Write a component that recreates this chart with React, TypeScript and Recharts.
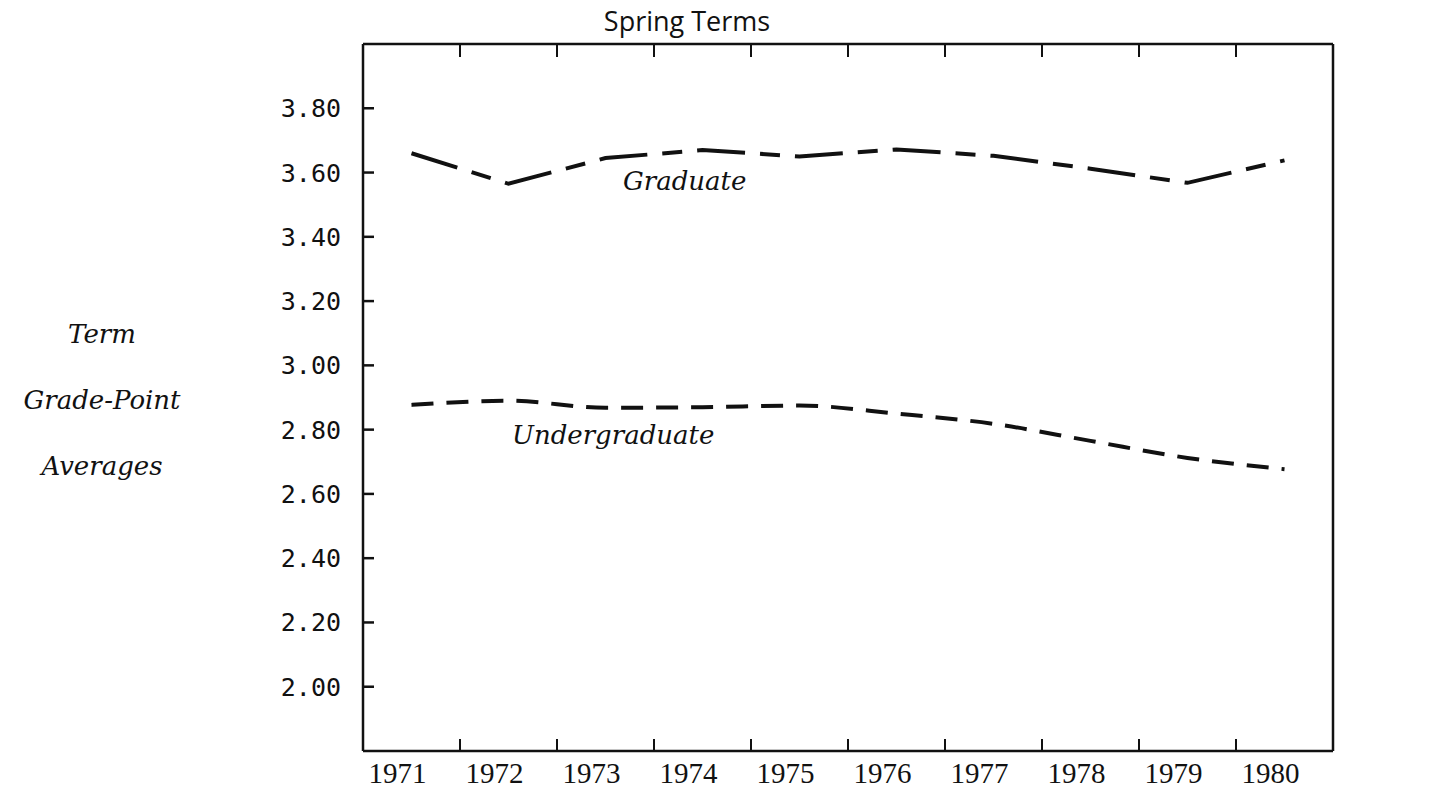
import React from 'react';
import { LineChart, Line, XAxis, YAxis } from 'recharts';

const years = ['1971', '1972', '1973', '1974', '1975', '1976', '1977', '1978', '1979', '1980'];
const graduate = [3.66, 3.565, 3.645, 3.67, 3.65, 3.672, 3.652, 3.612, 3.568, 3.638];
const undergraduate = [2.877, 2.89, 2.868, 2.87, 2.875, 2.85, 2.818, 2.765, 2.712, 2.677];
const gpaTicks = [2.0, 2.2, 2.4, 2.6, 2.8, 3.0, 3.2, 3.4, 3.6, 3.8];
const sideLabel = ['Term', 'Grade-Point', 'Averages'];

const data = years.map((y, i) => ({
    year: Number(y),
    graduate: graduate[i],
    undergraduate: undergraduate[i],
}));

// tick marks on the x axes sit between the years, the labels on the years
const yearBounds = years.slice(1).map((y) => Number(y) - 0.5);
const bottomTicks = [...years.map(Number), ...yearBounds].sort((a, b) => a - b);

const INK = '#111';
const monoFont = '"DejaVu Sans Mono", monospace';
const serifFont = '"Liberation Serif", serif';
const italicFont = '"DejaVu Serif", serif';

const YearTick = (props: any) => {
    const { x, y, payload } = props;
    const v = payload.value;
    if (Number.isInteger(v)) {
        return (
            <text x={x - 14} y={y + 32} textAnchor="middle" fontFamily={serifFont} fontSize={29} fill={INK}>
                {v}
            </text>
        );
    }
    return <line x1={x} x2={x} y1={y} y2={y - 12} stroke={INK} strokeWidth={2} />;
};

const TopTick = (props: any) => {
    const { x, y } = props;
    return <line x1={x} x2={x} y1={y} y2={y + 13} stroke={INK} strokeWidth={2} />;
};

const LeftTick = (props: any) => {
    const { x, y, payload } = props;
    return (
        <g>
            <line x1={x} x2={x + 11} y1={y} y2={y} stroke={INK} strokeWidth={2.5} />
            <text x={x - 22} y={y} dy="0.36em" textAnchor="end" fontFamily={monoFont} fontSize={25} fill={INK}>
                {Number(payload.value).toFixed(2)}
            </text>
        </g>
    );
};

const RightTick = (props: any) => {
    const { x, y, payload } = props;
    return (
        <g>
            <line x1={x - 15} x2={x} y1={y} y2={y} stroke={INK} strokeWidth={2.5} />
            <text x={x + 15} y={y} dy="0.36em" textAnchor="start" fontFamily={monoFont} fontSize={25} fill={INK}>
                {Number(payload.value).toFixed(2)}
            </text>
        </g>
    );
};

export default function App() {
    const axisLine = { stroke: INK, strokeWidth: 2.5 };

    return (
        <div style={{ position: 'absolute', left: 0, top: 0, width: 1429, height: 796, background: '#fff' }}>
            <LineChart width={1429} height={796} data={data} margin={{ top: 43, right: 0, bottom: 0, left: 263 }}>
                <XAxis
                    dataKey="year"
                    type="number"
                    domain={[1970.5, 1980.5]}
                    ticks={bottomTicks}
                    interval={0}
                    height={45}
                    tickSize={0}
                    tickMargin={0}
                    tickLine={false}
                    axisLine={axisLine}
                    tick={<YearTick />}
                />
                <XAxis
                    xAxisId="top"
                    orientation="top"
                    dataKey="year"
                    type="number"
                    domain={[1970.5, 1980.5]}
                    ticks={yearBounds}
                    interval={0}
                    height={1}
                    tickSize={0}
                    tickMargin={0}
                    tickLine={false}
                    axisLine={axisLine}
                    tick={<TopTick />}
                />
                <YAxis
                    yAxisId="left"
                    domain={[1.8, 4.0]}
                    ticks={gpaTicks}
                    interval={0}
                    width={100}
                    tickSize={0}
                    tickMargin={0}
                    tickLine={false}
                    axisLine={axisLine}
                    tick={<LeftTick />}
                />
                <YAxis
                    yAxisId="right"
                    orientation="right"
                    domain={[1.8, 4.0]}
                    ticks={gpaTicks}
                    interval={0}
                    width={96}
                    tickSize={0}
                    tickMargin={0}
                    tickLine={false}
                    axisLine={axisLine}
                    tick={<RightTick />}
                />
                <Line
                    yAxisId="left"
                    type="linear"
                    dataKey="graduate"
                    stroke={INK}
                    strokeWidth={4}
                    strokeDasharray="48 15 20 15"
                    dot={false}
                    isAnimationActive={false}
                />
                <Line
                    yAxisId="left"
                    type="monotone"
                    dataKey="undergraduate"
                    stroke={INK}
                    strokeWidth={4}
                    strokeDasharray="22 13"
                    dot={false}
                    isAnimationActive={false}
                />
            </LineChart>

            <svg width={1429} height={796} style={{ position: 'absolute', left: 0, top: 0, pointerEvents: 'none' }}>
                <text x={687} y={31} textAnchor="middle" fontFamily='"Open Sans", sans-serif' fontSize={27} fill={INK}>
                    Spring Terms
                </text>
                <text x={623} y={190} fontFamily={italicFont} fontStyle="italic" fontSize={26} fill={INK}>
                    Graduate
                </text>
                <text x={512} y={444} fontFamily={italicFont} fontStyle="italic" fontSize={26} fill={INK}>
                    Undergraduate
                </text>
                {sideLabel.map((s, i) => (
                    <text key={s} x={102} y={343 + i * 66} textAnchor="middle" fontFamily={italicFont} fontStyle="italic" fontSize={26} fill={INK}>
                        {s}
                    </text>
                ))}
            </svg>
        </div>
    );
}
